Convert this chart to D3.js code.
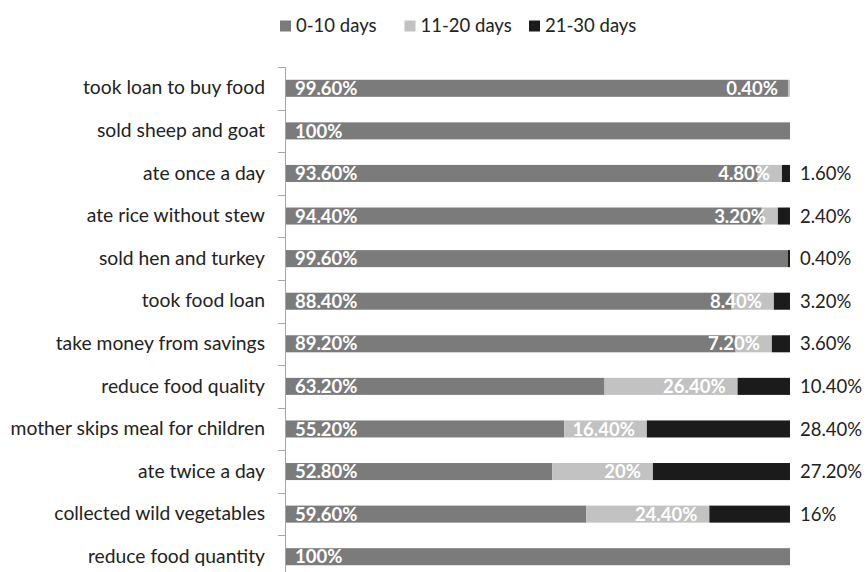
<!DOCTYPE html>
<html>
<head>
<meta charset="utf-8">
<script src="https://cdn.jsdelivr.net/npm/d3@7"></script>
<style>
  body { margin: 0; background: #fff; }
  svg { font-family: Lato, 'Open Sans', sans-serif; }
</style>
</head>
<body>
<svg id="chart" width="867" height="572"></svg>
<script>
var categories = [
  'took loan to buy food', 'sold sheep and goat', 'ate once a day',
  'ate rice without stew', 'sold hen and turkey', 'took food loan',
  'take money from savings', 'reduce food quality', 'mother skips meal for children',
  'ate twice a day', 'collected wild vegetables', 'reduce food quantity'
]
var seriesNames = ['0-10 days', '11-20 days', '21-30 days']
var days0to10 = [99.6, 100, 93.6, 94.4, 99.6, 88.4, 89.2, 63.2, 55.2, 52.8, 59.6, 100]
var days11to20 = [0.4, 0, 4.8, 3.2, 0, 8.4, 7.2, 26.4, 16.4, 20, 24.4, 0]
var days21to30 = [0, 0, 1.6, 2.4, 0.4, 3.2, 3.6, 10.4, 28.4, 27.2, 16, 0]

var colors = ['#7b7b7b', '#c2c2c2', '#1b1b1b']
var fs = 18.5

var rows = categories.map(function(c, i) {
  return {cat: c, '0-10 days': days0to10[i], '11-20 days': days11to20[i], '21-30 days': days21to30[i]}
})
var stacked = d3.stack().keys(seriesNames)(rows)

var svg = d3.select('#chart')
var x = d3.scaleLinear().domain([0, 100]).range([286, 790])
var y = d3.scaleBand().domain(categories).range([67, 578])
  .paddingInner(0.6).paddingOuter(0.3)

function fmt(v) {
  return v % 1 === 0 ? v + '%' : v.toFixed(2) + '%'
}

// legend
var leg = svg.append('g').selectAll('g').data(seriesNames).enter().append('g')
  .attr('transform', function(d, i) { return 'translate(' + [280 + i * 124.5, 26] + ')' })
leg.append('rect').attr('x', 0).attr('y', -5.5).attr('width', 11).attr('height', 11)
  .attr('fill', function(d, i) { return colors[i] })
leg.append('text').attr('x', 16).attr('y', 0).attr('dy', '0.35em')
  .attr('font-size', fs).attr('fill', '#222').text(function(d) { return d })

// axis
var axis = svg.append('g').attr('transform', 'translate(285,0)')
  .call(d3.axisLeft(y).tickSize(0).tickPadding(20))
axis.select('.domain').remove()
axis.selectAll('text').attr('font-size', 19.3).attr('fill', '#222')
  .attr('font-family', 'Lato, sans-serif')
svg.append('line').attr('x1', 285.5).attr('x2', 285.5).attr('y1', 67).attr('y2', 572)
  .attr('stroke', '#a6a6a6')
svg.append('g').selectAll('line').data(d3.range(categories.length + 1)).enter().append('line')
  .attr('x1', 278).attr('x2', 285)
  .attr('y1', function(i) { return Math.round(67 + i * y.step()) + 0.5 })
  .attr('y2', function(i) { return Math.round(67 + i * y.step()) + 0.5 })
  .attr('stroke', '#a6a6a6')

// bars
var layer = svg.append('g').selectAll('g').data(stacked).enter().append('g')
  .attr('fill', function(d, i) { return colors[i] })
layer.selectAll('rect').data(function(d) { return d }).enter().append('rect')
  .attr('x', function(d) { return x(d[0]) })
  .attr('width', function(d) { return x(d[1]) - x(d[0]) })
  .attr('y', function(d) { return y(d.data.cat) })
  .attr('height', y.bandwidth())

// labels
var lab = svg.append('g').attr('font-size', fs)
stacked.forEach(function(s, si) {
  lab.selectAll('text.s' + si).data(s.filter(function(d) { return d[1] - d[0] > 0 }))
    .enter().append('text').attr('class', 's' + si)
    .attr('y', function(d) { return y(d.data.cat) + y.bandwidth() / 2 })
    .attr('dy', '0.36em')
    .attr('x', function(d) {
      if (si == 0) return x(d[0]) + 9
      if (si == 1) return x(d[1]) - 12
      return x(100) + 10
    })
    .attr('text-anchor', si == 1 ? 'end' : 'start')
    .attr('fill', si == 2 ? '#222' : '#fff')
    .attr('font-weight', si == 2 ? 'normal' : 'bold')
    .text(function(d) { return fmt(d[1] - d[0]) })
})
</script>
</body>
</html>
